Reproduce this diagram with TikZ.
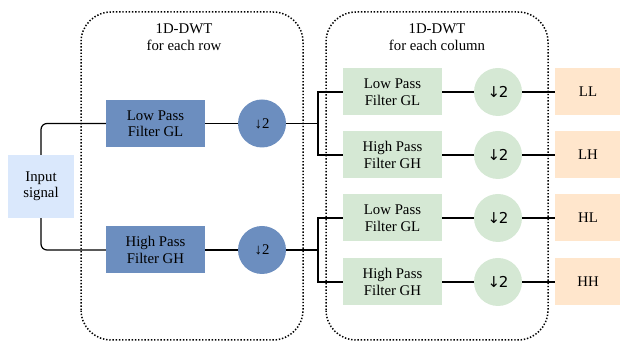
\documentclass[tikz,border=0pt]{standalone}
\usepackage{fontspec}
\setmainfont{Liberation Serif}
\newfontfamily\arrowfont{DejaVu Sans}
\usepackage{xcolor}
\usetikzlibrary{positioning}
\definecolor{inblue}{HTML}{DAE8FC}
\definecolor{rowblue}{HTML}{6C8EBF}
\definecolor{colgreen}{HTML}{D5E8D4}
\definecolor{outorange}{HTML}{FFE6CC}

\begin{document}
\begin{tikzpicture}[x=1pt,y=1pt,
  every node/.style={font=\fontsize{14.8}{16.5}\selectfont},
  filt/.style={minimum width=99pt,minimum height=47pt,align=center,inner sep=0pt},
  down/.style={circle,minimum size=48pt,inner sep=0pt},
  gdown/.style={down,fill=colgreen,font=\arrowfont\fontsize{15}{16}\selectfont},
  band/.style={line width=1.5pt,dash pattern=on 1.4pt off 1.8pt,rounded corners=30pt},
  wire/.style={line width=1.2pt}]
  \useasboundingbox (0,0) rectangle (620,344);
  \clip (0,0) rectangle (620,344);
  % Dotted groups
  \draw[band] (81,4) rectangle (303,332);
  \draw[band] (326,4) rectangle (548,332);
  \node[align=center] (trow) at (184,307) {1D-DWT\\for each row};
  \node[align=center] (tcol) at (437,307) {1D-DWT\\for each column};
  % Input
  \node[filt,fill=inblue,minimum width=66pt,minimum height=63pt] (in) at (41,157.5) {Input\\signal};
  % Row filters
  \node[filt,fill=rowblue] (rl) at (155.5,220.5) {Low Pass\\Filter GL};
  \node[filt,fill=rowblue] (rh) at (155.5,94) {High Pass\\Filter GH};
  \node[down,fill=rowblue] (rld) at (262,220.5) {↓2};
  \node[down,fill=rowblue] (rhd) at (262,94) {↓2};
  % Column filters
  \node[filt,fill=colgreen] (cll) at (392.5,252) {Low Pass\\Filter GL};
  \node[filt,fill=colgreen] (clh) at (392.5,189) {High Pass\\Filter GH};
  \node[filt,fill=colgreen] (chl) at (392.5,126) {Low Pass\\Filter GL};
  \node[filt,fill=colgreen] (chh) at (392.5,62) {High Pass\\Filter GH};
  \node[gdown] (clld) at (498,252) {↓\kern-1.5pt2};
  \node[gdown] (clhd) at (498,189) {↓\kern-1.5pt2};
  \node[gdown] (chld) at (498,126) {↓\kern-1.5pt2};
  \node[gdown] (chhd) at (498,62) {↓\kern-1.5pt2};
  % Outputs
  \node[filt,fill=outorange,minimum width=66pt] (oll) at (588,252) {LL};
  \node[filt,fill=outorange,minimum width=66pt] (olh) at (588,189) {LH};
  \node[filt,fill=outorange,minimum width=66pt] (ohl) at (588,126) {HL};
  \node[filt,fill=outorange,minimum width=66pt] (ohh) at (588,62) {HH};
  % Branch points
  \coordinate (bu) at (318,220.5);
  \coordinate (bd) at (318,94);
  % Wires
  \draw[wire,rounded corners=6pt] (in.north) |- (rl.west);
  \draw[wire,rounded corners=6pt] (in.south) |- (rh.west);
  \draw[wire] (rl) -- (rld);
  \draw[wire] (rh) -- (rhd);
  \draw[wire] (rld) -- (bu);
  \draw[wire] (rhd) -- (bd);
  \draw[wire] (cll.west) -| (bu) |- (clh.west);
  \draw[wire] (chl.west) -| (bd) |- (chh.west);
  \draw[wire] (cll) -- (clld);
  \draw[wire] (clh) -- (clhd);
  \draw[wire] (chl) -- (chld);
  \draw[wire] (chh) -- (chhd);
  \draw[wire] (clld) -- (oll);
  \draw[wire] (clhd) -- (olh);
  \draw[wire] (chld) -- (ohl);
  \draw[wire] (chhd) -- (ohh);
\end{tikzpicture}
\end{document}
